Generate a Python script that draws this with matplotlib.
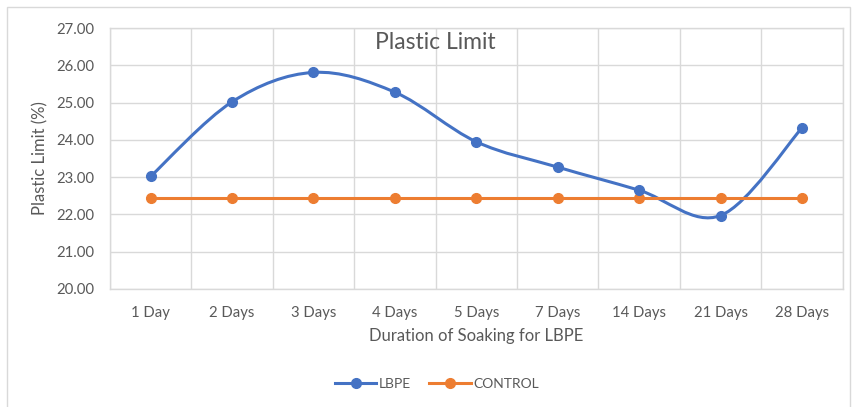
import matplotlib.pyplot as plt
import numpy as np
from matplotlib.patches import Rectangle
from matplotlib.path import Path
from matplotlib.patches import PathPatch
from matplotlib.lines import Line2D

plt.rcParams['font.family'] = ['Lato', 'DejaVu Sans']

categories = ['1 Day', '2 Days', '3 Days', '4 Days', '5 Days',
              '7 Days', '14 Days', '21 Days', '28 Days']
lbpe = [23.02, 25.02, 25.81, 25.28, 23.95, 23.27, 22.65, 21.97, 24.32]
control = [22.44] * 9

BLUE = '#4472C4'
ORANGE = '#ED7D31'
TEXT = '#595959'
GRID = '#D9D9D9'


def smooth_path(x, y):
    # Excel-style smoothed line: cubic bezier through each point
    pts = np.column_stack([x, y]).astype(float)
    n = len(pts)
    verts = [pts[0]]
    codes = [Path.MOVETO]
    for i in range(n - 1):
        p0 = pts[i - 1] if i > 0 else pts[i]
        p1 = pts[i]
        p2 = pts[i + 1]
        p3 = pts[i + 2] if i + 2 < n else pts[i + 1]
        c1 = p1 + (p2 - p0) / 6
        c2 = p2 - (p3 - p1) / 6
        verts += [c1, c2, p2]
        codes += [Path.CURVE4] * 3
    return Path(verts, codes)


fig = plt.figure(figsize=(8.52, 4.07), dpi=100)
ax = fig.add_axes([0.129, 0.290, 0.860, 0.641])

x = np.arange(len(categories))
ax.add_patch(PathPatch(smooth_path(x, lbpe), facecolor='none', edgecolor=BLUE,
                       linewidth=2.2, zorder=3))
ax.plot(x, lbpe, linestyle='none', marker='o', markersize=7, color=BLUE, zorder=4)
ax.plot(x, control, color=ORANGE, linewidth=2.2, marker='o', markersize=7, zorder=3)

ax.set_xlim(-0.5, len(categories) - 0.5)
ax.set_ylim(20, 27)
ax.set_yticks(np.arange(20, 27.5, 1))
ax.set_yticklabels([f'{v:.2f}' for v in np.arange(20, 27.5, 1)])
ax.set_xticks(x)
ax.set_xticklabels(categories)
ax.set_xticks(np.arange(-0.5, len(categories), 1), minor=True)

ax.grid(True, which='major', axis='y', color=GRID, linewidth=1)
ax.grid(True, which='minor', axis='x', color=GRID, linewidth=1)
ax.tick_params(which='both', length=0, colors=TEXT, labelsize=10.7)
ax.tick_params(axis='x', pad=12)
ax.tick_params(axis='y', pad=11)
for s in ax.spines.values():
    s.set_color(GRID)
    s.set_linewidth(1)

ax.set_xlabel('Duration of Soaking for LBPE', color=TEXT, fontsize=12, labelpad=6)
ax.set_ylabel('Plastic Limit (%)', color=TEXT, fontsize=12, labelpad=6)
ax.text(3.5, 26.9, 'Plastic Limit', ha='center', va='top',
        color=TEXT, fontsize=16.5)

handles = [Line2D([], [], color=BLUE, marker='o', markersize=7, linewidth=2.2),
           Line2D([], [], color=ORANGE, marker='o', markersize=7, linewidth=2.2)]
leg = fig.legend(handles, ['LBPE', 'CONTROL'], loc='center', bbox_to_anchor=(0.513, 0.057),
                 ncol=2, frameon=False, fontsize=10, handlelength=3.0, columnspacing=1.3,
                 handletextpad=0.2)
for t in leg.get_texts():
    t.set_color(TEXT)

fig.patches.append(Rectangle((0.008, -0.01), 0.99, 0.993, transform=fig.transFigure,
                             fill=False, edgecolor=GRID, linewidth=1))

fig.savefig('out.png', dpi=100)
